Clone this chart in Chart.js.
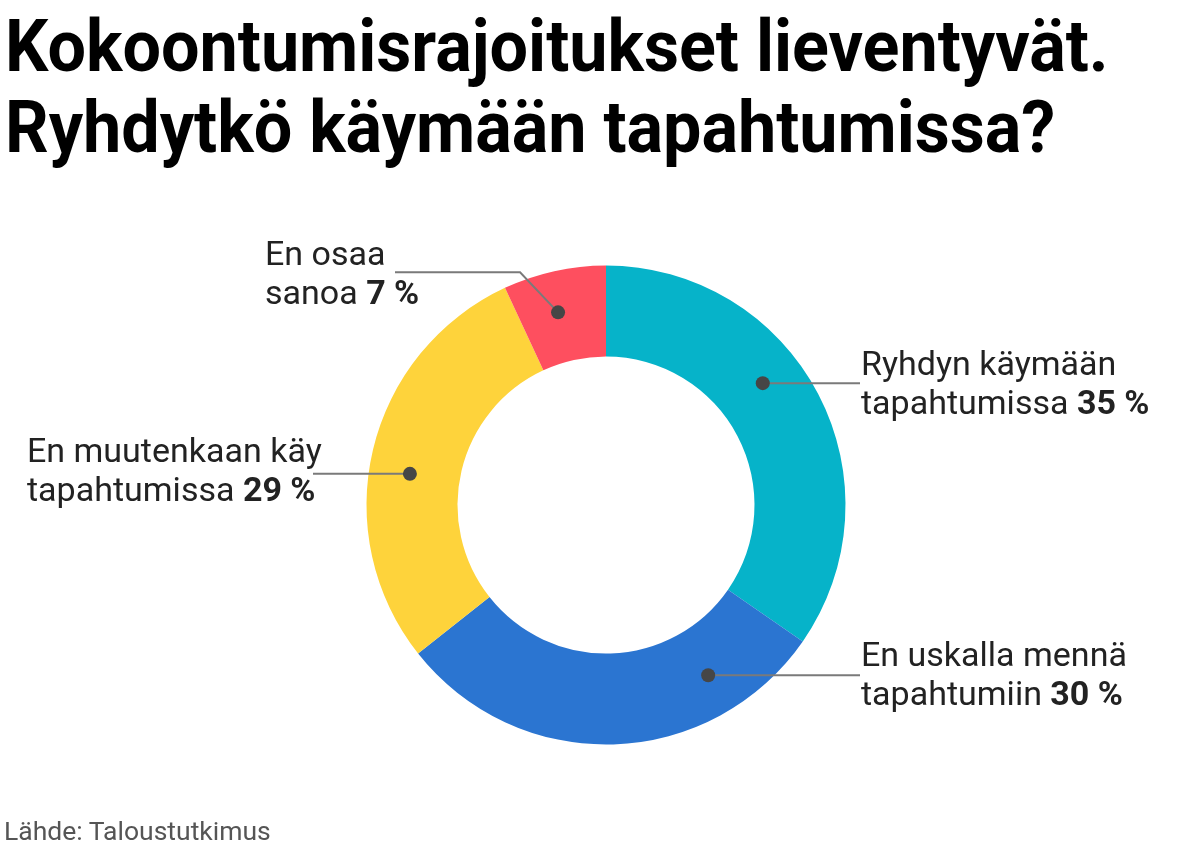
<!DOCTYPE html>
<html lang="fi">
<head>
<meta charset="utf-8">
<script src="https://cdn.jsdelivr.net/npm/chart.js@4.4.1/dist/chart.umd.min.js"></script>
<style>
  html, body { margin: 0; padding: 0; background: #fff; }
  body { width: 1199px; height: 861px; position: relative; overflow: hidden; font-family: Roboto, sans-serif; }
  h1 { position: absolute; left: 5px; top: 6px; margin: 0; font-size: 72px; line-height: 81px; font-weight: 700; color: #000; white-space: nowrap; transform-origin: 0 0; transform: scaleX(0.948); }
  #source { position: absolute; left: 4px; top: 818px; font-size: 26.5px; line-height: 26px; color: #555; }
  canvas { position: absolute; left: 0; top: 0; }
</style>
</head>
<body>
<h1>Kokoontumisrajoitukset lieventyvät.<br>Ryhdytkö käymään tapahtumissa?</h1>
<canvas id="donut" width="1199" height="861"></canvas>
<div id="source">Lähde: Taloustutkimus</div>
<script>
const categories = ["Ryhdyn käymään tapahtumissa", "En uskalla mennä tapahtumiin", "En muutenkaan käy tapahtumissa", "En osaa sanoa"];
const values = [35, 30, 29, 7];
const labelLines = [["Ryhdyn käymään", "tapahtumissa"], ["En uskalla mennä", "tapahtumiin"], ["En muutenkaan käy", "tapahtumissa"], ["En osaa", "sanoa"]];
const colors = ["#06b3c9", "#2b75d1", "#fed33b", "#fe4f5f"];

// where each callout sits (dot position inside its slice, line end, text start)
const callouts = [
  { frac: 0.418, lineEndX: 860, textX: 861, textDy: -8 },
  { frac: 0.227, lineEndX: 860, textX: 861, textDy: -9 },
  { frac: 0.458, lineEndX: 313, textX: 27, textDy: -12 },
  { frac: 0.44, elbow: [-38, -40], lineEndX: 395, textX: 265, textDy: -7 }
];

const calloutPlugin = {
  id: 'callouts',
  afterDatasetsDraw(chart) {
    const ctx = chart.ctx;
    const meta = chart.getDatasetMeta(0);
    meta.data.forEach((arc, i) => {
      const p = arc.getProps(['x', 'y', 'startAngle', 'endAngle', 'innerRadius', 'outerRadius'], true);
      const c = callouts[i];
      const a = p.startAngle + c.frac * (p.endAngle - p.startAngle);
      const r = p.innerRadius + 0.55 * (p.outerRadius - p.innerRadius);
      const dx = p.x + Math.cos(a) * r;
      const dy = p.y + Math.sin(a) * r;

      ctx.save();
      ctx.strokeStyle = '#7a7a7a';
      ctx.lineWidth = 2;
      ctx.beginPath();
      ctx.moveTo(dx, dy);
      let ly = dy;
      if (c.elbow) {
        ctx.lineTo(dx + c.elbow[0], dy + c.elbow[1]);
        ly = dy + c.elbow[1];
      }
      ctx.lineTo(c.lineEndX, ly);
      ctx.stroke();

      ctx.fillStyle = '#464646';
      ctx.beginPath();
      ctx.arc(dx, dy, 7, 0, Math.PI * 2);
      ctx.fill();

      const base = ly + c.textDy;
      ctx.fillStyle = '#222';
      ctx.textBaseline = 'alphabetic';
      ctx.textAlign = 'left';
      ctx.font = '34px Roboto';
      ctx.fillText(labelLines[i][0], c.textX, base);
      const second = labelLines[i][1] + ' ';
      ctx.fillText(second, c.textX, base + 39);
      const w = ctx.measureText(second).width;
      ctx.font = 'bold 34px Roboto';
      ctx.fillText(values[i] + ' %', c.textX + w, base + 39);
      ctx.restore();
    });
  }
};

new Chart(document.getElementById('donut'), {
  type: 'doughnut',
  data: {
    labels: categories,
    datasets: [{
      data: values,
      backgroundColor: colors,
      borderWidth: 0
    }]
  },
  options: {
    responsive: false,
    animation: false,
    cutout: '62%',
    layout: { padding: { left: 366.5, right: 353.5, top: 265.5, bottom: 116.5 } },
    plugins: { legend: { display: false }, tooltip: { enabled: false } }
  },
  plugins: [calloutPlugin]
});
</script>
</body>
</html>
